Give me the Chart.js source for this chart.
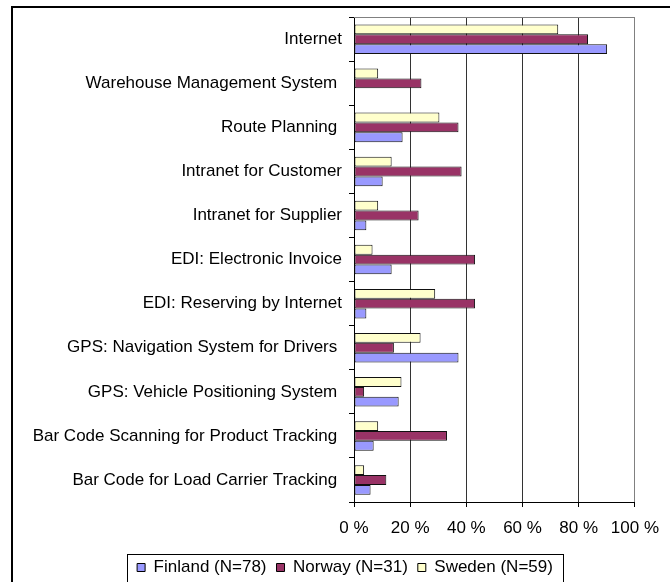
<!DOCTYPE html>
<html>
<head>
<meta charset="utf-8">
<script src="https://cdn.jsdelivr.net/npm/chart.js@4.4.1/dist/chart.umd.min.js"></script>
<style>
	body { margin: 0; background: #fff; }
	#wrap { width: 670px; height: 582px; position: relative; }
</style>
</head>
<body>
<div id="wrap"><canvas id="chart"></canvas></div>
<script>
// Categories, top to bottom as in the picture
const categories = [
	"Internet",
	"Warehouse Management System ",
	"Route Planning ",
	"Intranet for Customer",
	"Intranet for Supplier",
	"EDI: Electronic Invoice",
	"EDI: Reserving by Internet",
	"GPS: Navigation System for Drivers ",
	"GPS: Vehicle Positioning System ",
	"Bar Code Scanning for Product Tracking ",
	"Bar Code for Load Carrier Tracking ",
];

// Share of companies (%)
const finland = [90.1, 0, 17.3, 10.2, 4.4, 13.4, 4.4, 37.2, 15.9, 7.0, 5.9];
const norway = [83.3, 24.0, 37.2, 38.3, 23.0, 43.1, 43.1, 14.2, 3.6, 33.1, 11.5];
const sweden = [72.7, 8.6, 30.4, 13.4, 8.6, 6.6, 28.9, 23.7, 16.9, 8.6, 3.6];

const xTicks = [0, 20, 40, 60, 80, 100];

const FONT = "'Liberation Sans', Arial, sans-serif";
const LEGEND_SHIFT = 27;

// Frame of the whole chart, grey plot border and the box round the legend
const frames = {
	id: "frames",
	afterUpdate(chart) {
		// legend sits a bit right of the canvas centre
		const legend = chart.legend;
		legend.left += LEGEND_SHIFT;
		legend.right += LEGEND_SHIFT;
		legend.legendHitBoxes.forEach((b) => (b.left += LEGEND_SHIFT));
	},
	beforeDatasetsDraw(chart) {
		const { ctx, chartArea } = chart;
		ctx.save();
		ctx.strokeStyle = "#808080";
		ctx.lineWidth = 1;
		ctx.beginPath();
		ctx.moveTo(chartArea.left, Math.round(chartArea.top) + 0.5);
		ctx.lineTo(chartArea.right, Math.round(chartArea.top) + 0.5);
		ctx.stroke();
		ctx.restore();
	},
	afterDraw(chart) {
		const { ctx } = chart;
		ctx.save();
		ctx.strokeStyle = "#000";
		ctx.lineWidth = 2;
		ctx.strokeRect(12, 7, 700, 600);

		const boxes = chart.legend.legendHitBoxes;
		if (boxes && boxes.length) {
			const left = Math.min(...boxes.map((b) => b.left)) - 10;
			const right = Math.max(...boxes.map((b) => b.left + b.width)) + 10;
			const mid = boxes[0].top + boxes[0].height / 2;
			ctx.lineWidth = 1;
			ctx.strokeRect(Math.round(left) + 0.5, Math.round(mid - 14) + 0.5, Math.round(right - left), 28);
		}
		ctx.restore();
	},
};

new Chart(document.getElementById("chart"), {
	type: "bar",
	data: {
		labels: categories,
		datasets: [
			{
				label: "Sweden (N=59)",
				data: sweden,
				backgroundColor: "#FFFFCC",
			},
			{
				label: "Norway (N=31)",
				data: norway,
				backgroundColor: "#993366",
			},
			{
				label: "Finland (N=78)",
				data: finland,
				backgroundColor: "#9999FF",
			},
		],
	},
	options: {
		indexAxis: "y",
		responsive: true,
		maintainAspectRatio: false,
		animation: false,
		datasets: {
			bar: {
				borderColor: "#111",
				borderWidth: 1,
				borderSkipped: false,
				categoryPercentage: 0.67,
				barPercentage: 1.0,
			},
		},
		layout: {
			padding: { left: 0, right: 34, top: 17, bottom: -4 },
		},
		scales: {
			x: {
				min: 0,
				max: 100,
				afterBuildTicks: (scale) => {
					scale.ticks = xTicks.map((v) => ({ value: v }));
				},
				afterFit: (scale) => {
					scale.height = 47;
				},
				ticks: {
					color: "#000",
					font: { family: FONT, size: 17 },
					padding: 11,
					maxRotation: 0,
					callback: (v) => v + " %",
				},
				grid: {
					color: (c) => (c.tick && c.tick.value === 100 ? "#808080" : "#333"),
					tickLength: 5,
					tickColor: "#000",
				},
				border: { color: "#000", width: 1 },
			},
			y: {
				afterFit: (scale) => {
					scale.width = 354;
				},
				ticks: {
					color: "#000",
					font: { family: FONT, size: 17 },
					padding: 7,
					autoSkip: false,
				},
				grid: {
					offset: true,
					drawOnChartArea: false,
					tickLength: 5,
					color: "#000",
				},
				border: { color: "#000", width: 1 },
			},
		},
		plugins: {
			legend: {
				position: "bottom",
				reverse: true,
				labels: {
					color: "#000",
					font: { family: FONT, size: 17 },
					boxWidth: 8,
					boxHeight: 8,
					padding: 10,
					generateLabels: (chart) =>
						chart.data.datasets.map((ds, i) => ({
							text: ds.label,
							fillStyle: ds.backgroundColor,
							strokeStyle: "#000",
							lineWidth: 1,
							hidden: false,
							datasetIndex: i,
						})),
				},
			},
			tooltip: { enabled: false },
		},
	},
	plugins: [frames],
});
</script>
</body>
</html>
